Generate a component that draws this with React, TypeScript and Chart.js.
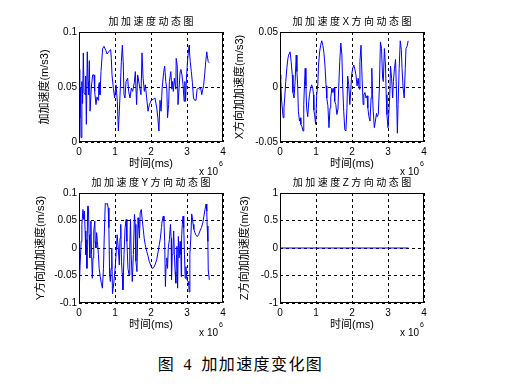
import React, { useEffect, useRef } from "react";
import { Chart, registerables } from "chart.js";

Chart.register(...registerables);

// ---- data (time in units of 10^6 ms) ----
const xTickValues = [0, 1, 2, 3, 4];

const jerkTime = [0, 0.02, 0.04, 0.056, 0.08, 0.1, 0.12, 0.14, 0.167, 0.185, 0.204, 0.23, 0.25, 0.27, 0.287, 0.306, 0.343, 0.38, 0.417, 0.435, 0.472, 0.5, 0.528, 0.546, 0.565, 0.583, 0.611, 0.657, 0.694, 0.75, 0.78, 0.806, 0.843, 0.88, 0.898, 0.917, 0.954, 0.99, 1.028, 1.065, 1.093, 1.12, 1.148, 1.176, 1.204, 1.231, 1.25, 1.278, 1.306, 1.352, 1.38, 1.417, 1.454, 1.49, 1.537, 1.565, 1.6, 1.63, 1.676, 1.722, 1.75, 1.78, 1.815, 1.843, 1.88, 1.917, 1.954, 2.01, 2.07, 2.11, 2.16, 2.19, 2.22, 2.25, 2.28, 2.31, 2.35, 2.38, 2.41, 2.44, 2.46, 2.49, 2.51, 2.55, 2.58, 2.6, 2.62, 2.65, 2.69, 2.7, 2.73, 2.75, 2.78, 2.81, 2.83, 2.86, 2.89, 2.92, 2.94, 2.96, 2.99, 3.02, 3.06, 3.07, 3.09, 3.12, 3.15, 3.18, 3.21, 3.25, 3.28, 3.31, 3.35, 3.38, 3.41, 3.44, 3.46, 3.49, 3.52, 3.55, 3.56, 3.59, 3.62];
const jerkValue = [0.066, 0.022, 0.05, 0.004, 0.055, 0.035, 0.081, 0.045, 0.043, 0.06, 0.016, 0.082, 0.055, 0.043, 0.074, 0.028, 0.05, 0.061, 0.061, 0.046, 0.034, 0.041, 0.038, 0.052, 0.054, 0.043, 0.064, 0.085, 0.087, 0.083, 0.08, 0.081, 0.083, 0.084, 0.076, 0.061, 0.049, 0.04, 0.052, 0.037, 0.01, 0.028, 0.049, 0.073, 0.088, 0.07, 0.043, 0.04, 0.055, 0.058, 0.046, 0.04, 0.049, 0.046, 0.054, 0.064, 0.034, 0.061, 0.052, 0.043, 0.081, 0.058, 0.046, 0.052, 0.04, 0.028, 0.034, 0.038, 0.039, 0.04, 0.031, 0.022, 0.01, 0.038, 0.028, 0.049, 0.063, 0.069, 0.055, 0.048, 0.022, 0.034, 0.055, 0.064, 0.048, 0.055, 0.046, 0.058, 0.048, 0.076, 0.069, 0.034, 0.049, 0.064, 0.066, 0.061, 0.052, 0.037, 0.055, 0.037, 0.061, 0.076, 0.088, 0.082, 0.073, 0.064, 0.054, 0.04, 0.038, 0.038, 0.048, 0.049, 0.048, 0.049, 0.043, 0.048, 0.051, 0.061, 0.073, 0.082, 0.079, 0.073, 0.072];

const jerkXTime = [0, 0.02, 0.04, 0.07, 0.09, 0.11, 0.13, 0.16, 0.19, 0.22, 0.24, 0.28, 0.31, 0.34, 0.36, 0.39, 0.42, 0.45, 0.47, 0.49, 0.51, 0.54, 0.56, 0.58, 0.61, 0.64, 0.66, 0.68, 0.7, 0.72, 0.74, 0.77, 0.8, 0.82, 0.85, 0.88, 0.91, 0.93, 0.94, 0.96, 0.99, 1.02, 1.05, 1.07, 1.1, 1.13, 1.16, 1.19, 1.22, 1.25, 1.28, 1.3, 1.33, 1.36, 1.39, 1.41, 1.44, 1.47, 1.5, 1.52, 1.55, 1.58, 1.61, 1.63, 1.66, 1.69, 1.72, 1.74, 1.77, 1.8, 1.83, 1.86, 1.88, 1.91, 1.94, 1.97, 1.99, 2.02, 2.05, 2.08, 2.11, 2.14, 2.17, 2.2, 2.22, 2.25, 2.28, 2.31, 2.33, 2.36, 2.39, 2.42, 2.44, 2.47, 2.5, 2.53, 2.55, 2.57, 2.59, 2.62, 2.65, 2.68, 2.7, 2.73, 2.76, 2.79, 2.82, 2.85, 2.87, 2.9, 2.93, 2.95, 2.97, 3.0, 3.02, 3.05, 3.07, 3.1, 3.13, 3.15, 3.18, 3.21, 3.24, 3.26, 3.28, 3.31, 3.34, 3.37, 3.39, 3.42, 3.45, 3.48, 3.5, 3.53, 3.56];
const jerkXValue = [0.011, 0.007, -0.01, -0.022, -0.028, -0.019, -0.01, 0.005, 0.017, 0.026, 0.029, 0.032, 0.023, 0.011, -0.005, -0.01, 0.005, 0.029, 0.014, 0.002, -0.022, -0.031, -0.028, -0.034, -0.036, -0.04, -0.016, 0.002, 0.017, 0.001, -0.019, -0.027, -0.013, -0.007, -0.001, 0.002, -0.001, -0.007, -0.021, -0.025, -0.034, -0.007, 0.002, 0.02, 0.032, 0.038, 0.042, 0.038, 0.031, 0.019, 0.001, -0.01, -0.017, -0.037, -0.019, -0.01, -0.001, -0.005, -0.001, -0.013, -0.016, -0.025, -0.02, -0.001, 0.023, 0.04, 0.029, 0.002, -0.022, -0.039, -0.04, -0.019, 0.01, 0.002, -0.016, -0.001, 0.011, 0.017, 0.02, 0.016, 0.011, 0.001, 0.008, -0.002, 0.023, 0.038, 0.008, -0.016, -0.007, -0.005, -0.01, -0.008, -0.019, -0.027, -0.031, -0.01, 0.017, -0.007, -0.022, -0.037, -0.031, -0.024, -0.027, -0.025, -0.001, 0.041, 0.035, 0.008, 0.005, 0.035, 0.02, -0.007, -0.025, -0.037, -0.037, -0.007, 0.019, 0.008, -0.01, 0.005, 0.017, 0.025, -0.01, -0.042, -0.016, 0.017, 0.042, 0.034, 0.017, -0.001, -0.01, 0.017, 0.035, 0.037, 0.042];

const jerkYTime = [0, 0.01, 0.03, 0.06, 0.08, 0.11, 0.13, 0.15, 0.17, 0.19, 0.2, 0.22, 0.24, 0.26, 0.28, 0.3, 0.31, 0.33, 0.35, 0.37, 0.39, 0.41, 0.44, 0.45, 0.47, 0.49, 0.51, 0.54, 0.56, 0.59, 0.62, 0.65, 0.68, 0.7, 0.73, 0.76, 0.79, 0.81, 0.83, 0.85, 0.87, 0.89, 0.91, 0.93, 0.95, 0.98, 1.01, 1.04, 1.06, 1.09, 1.12, 1.14, 1.16, 1.18, 1.2, 1.22, 1.25, 1.28, 1.31, 1.33, 1.36, 1.39, 1.41, 1.43, 1.45, 1.48, 1.51, 1.54, 1.56, 1.58, 1.61, 1.64, 1.66, 1.68, 1.7, 1.73, 1.76, 1.79, 1.81, 1.84, 1.88, 1.92, 1.95, 1.99, 2.03, 2.07, 2.11, 2.16, 2.2, 2.23, 2.26, 2.29, 2.31, 2.34, 2.36, 2.38, 2.4, 2.42, 2.44, 2.46, 2.48, 2.51, 2.54, 2.56, 2.57, 2.59, 2.61, 2.63, 2.65, 2.67, 2.69, 2.71, 2.72, 2.74, 2.76, 2.78, 2.81, 2.83, 2.84, 2.85, 2.87, 2.89, 2.91, 2.93, 2.95, 2.97, 2.99, 3.0, 3.03, 3.05, 3.06, 3.08, 3.11, 3.13, 3.15, 3.17, 3.19, 3.22, 3.25, 3.29, 3.32, 3.36, 3.4, 3.44, 3.47, 3.5, 3.53, 3.55, 3.56, 3.58, 3.59, 3.62];
const jerkYValue = [-0.06, -0.07, -0.031, 0.012, 0.043, 0.07, 0.052, 0.067, 0.031, -0.012, 0.015, -0.037, 0.076, 0.076, 0.024, -0.018, 0.024, 0.049, -0.012, -0.055, -0.018, 0.031, 0.049, 0.012, 0.0, 0.028, 0.012, -0.012, -0.037, -0.052, -0.064, -0.073, -0.037, 0.018, 0.081, 0.08, 0.081, 0.073, 0.037, -0.049, -0.061, -0.037, 0.0, -0.083, -0.073, -0.055, -0.031, 0.0, 0.024, 0.0, -0.031, 0.018, 0.043, -0.024, -0.046, -0.076, -0.012, 0.037, 0.052, 0.012, -0.037, -0.049, 0.0, 0.052, -0.012, -0.061, -0.012, 0.061, 0.043, -0.024, -0.043, 0.055, 0.037, 0.018, 0.064, 0.07, 0.049, 0.031, 0.018, 0.006, -0.006, -0.015, -0.024, -0.031, -0.037, -0.036, -0.031, -0.021, -0.006, 0.006, 0.018, 0.037, 0.049, 0.058, 0.049, 0.012, -0.07, -0.031, -0.018, -0.037, 0.0, 0.015, 0.043, 0.018, -0.058, -0.012, 0.0, 0.031, -0.012, -0.043, -0.064, -0.012, 0.003, -0.073, 0.021, -0.018, 0.012, -0.012, -0.052, 0.018, 0.043, 0.058, 0.037, -0.012, -0.055, -0.034, -0.052, -0.058, -0.061, -0.067, -0.08, -0.012, 0.024, 0.062, 0.055, 0.043, 0.034, 0.028, 0.023, 0.021, 0.024, 0.031, 0.037, 0.046, 0.058, 0.07, 0.08, 0.067, 0.04, 0.012, -0.04, -0.058];

const jerkZTime = [0, 1, 2, 3, 3.57];
const jerkZValue = [0, 0, 0, 0, 0];

const yTicks1 = [0, 0.05, 0.1];
const yTicks2 = [-0.05, 0, 0.05];
const yTicks3 = [-0.1, -0.05, 0, 0.05, 0.1];
const yTicks4 = [-1, -0.5, 0, 0.5, 1];

const LATIN = '"Liberation Sans", Arial, sans-serif';
const MIXED = '"Liberation Sans", "Noto Sans CJK SC", sans-serif';

const CW = 250;
const CH = 180;

type PanelProps = {
  left: number;
  top: number;
  title: string;
  yLabel: string;
  yLabelX: number;
  yTicks: number[];
  time: number[];
  values: number[];
};

function Panel({ left, top, title, yLabel, yLabelX, yTicks, time, values }: PanelProps) {
  const ref = useRef<HTMLCanvasElement | null>(null);

  useEffect(() => {
    if (!ref.current) return;
    const panelText = {
      id: "panelText",
      afterDraw(chart: any) {
        const { ctx, chartArea: a } = chart;
        ctx.save();
        ctx.setLineDash([]);
        ctx.strokeStyle = "#000";
        ctx.lineWidth = 1;
        const l = Math.round(a.left) + 0.5;
        const t = Math.round(a.top) + 0.5;
        const r = Math.round(a.right) - 0.5;
        const b = Math.round(a.bottom) - 0.5;
        ctx.strokeRect(l, t, r - l, b - t);
        ctx.fillStyle = "#000";
        ctx.textBaseline = "middle";
        ctx.font = `10px ${MIXED}`;
        (ctx as any).letterSpacing = "2.5px";
        ctx.textAlign = "center";
        ctx.fillText(title, (a.left + a.right) / 2 + 1.25, 22);
        (ctx as any).letterSpacing = "0px";
        ctx.font = `10px ${LATIN}`;
        ctx.textAlign = "right";
        ctx.fillText("x 10", a.right - 5, 172);
        ctx.font = `7px ${LATIN}`;
        ctx.textAlign = "left";
        ctx.fillText("6", a.right - 4, 164);
        ctx.restore();
      },
    };

    const chart = new Chart(ref.current, {
      type: "line",
      data: {
        datasets: [
          {
            data: time.map((x, i) => ({ x, y: values[i] })),
            borderColor: "#0000ff",
            borderWidth: 1,
            pointRadius: 0,
            tension: 0,
            fill: false,
          },
        ],
      },
      options: {
        animation: false,
        responsive: false,
        devicePixelRatio: 1,
        layout: { padding: { top: 32, right: 27, left: 0, bottom: 0 } },
        plugins: { legend: { display: false }, tooltip: { enabled: false }, title: { display: false } },
        scales: {
          x: {
            type: "linear",
            min: 0,
            max: 4,
            afterBuildTicks: (axis: any) => {
              axis.ticks = xTickValues.map((v) => ({ value: v }));
            },
            afterFit: (s: any) => {
              s.height = 38;
            },
            ticks: {
              color: "#000",
              font: { family: LATIN, size: 10 },
              padding: 4,
              maxRotation: 0,
              autoSkip: false,
              callback: (v: any) => String(v),
            },
            grid: { color: "#000", lineWidth: 1, drawTicks: false, tickLength: 0 },
            border: { display: false, dash: [3, 3] },
            title: {
              display: true,
              text: "时间(ms)",
              color: "#000",
              font: { family: MIXED, size: 11 },
              padding: { top: 0, bottom: 9.4 },
            },
          },
          y: {
            type: "linear",
            min: yTicks[0],
            max: yTicks[yTicks.length - 1],
            afterBuildTicks: (axis: any) => {
              axis.ticks = yTicks.map((v) => ({ value: v }));
            },
            afterFit: (s: any) => {
              s.width = 79;
            },
            ticks: {
              color: "#000",
              font: { family: LATIN, size: 10 },
              padding: 2,
              autoSkip: false,
              callback: (v: any) => String(v),
            },
            grid: { color: "#000", lineWidth: 1, drawTicks: false, tickLength: 0 },
            border: { display: false, dash: [3, 3] },
            title: {
              display: true,
              text: yLabel,
              color: "#000",
              font: { family: MIXED, size: 11 },
              padding: { top: yLabelX - 6.6, bottom: 0 },
            },
          },
        },
      },
      plugins: [panelText],
    } as any);
    return () => chart.destroy();
  }, []);

  return (
    <canvas
      ref={ref}
      width={CW}
      height={CH}
      style={{ position: "absolute", left, top, width: CW, height: CH }}
    />
  );
}

export default function App() {
  return (
    <div
      style={{
        position: "absolute",
        left: 0,
        top: 0,
        width: 505,
        height: 389,
        background: "#fff",
        overflow: "hidden",
      }}
    >
      <Panel left={0} top={0} title="加加速度动态图" yLabel="加加速度(m/s3)" yLabelX={45} yTicks={yTicks1} time={jerkTime} values={jerkValue} />
      <Panel left={201} top={0} title="加加速度X方向动态图" yLabel="X方向加加速度(m/s3)" yLabelX={39} yTicks={yTicks2} time={jerkXTime} values={jerkXValue} />
      <Panel left={0} top={161} title="加加速度Y方向动态图" yLabel="Y方向加加速度(m/s3)" yLabelX={41} yTicks={yTicks3} time={jerkYTime} values={jerkYValue} />
      <Panel left={201} top={161} title="加加速度Z方向动态图" yLabel="Z方向加加速度(m/s3)" yLabelX={44} yTicks={yTicks4} time={jerkZTime} values={jerkZValue} />
      <div
        style={{
          position: "absolute",
          left: 0,
          width: 481,
          top: 355,
          textAlign: "center",
          fontFamily: '"Liberation Serif", "Noto Sans CJK SC", serif',
          fontSize: 16,
          lineHeight: "20px",
          letterSpacing: "1.4px",
          wordSpacing: "3px",
          color: "#000",
        }}
      >
        图 4 加加速度变化图
      </div>
    </div>
  );
}
